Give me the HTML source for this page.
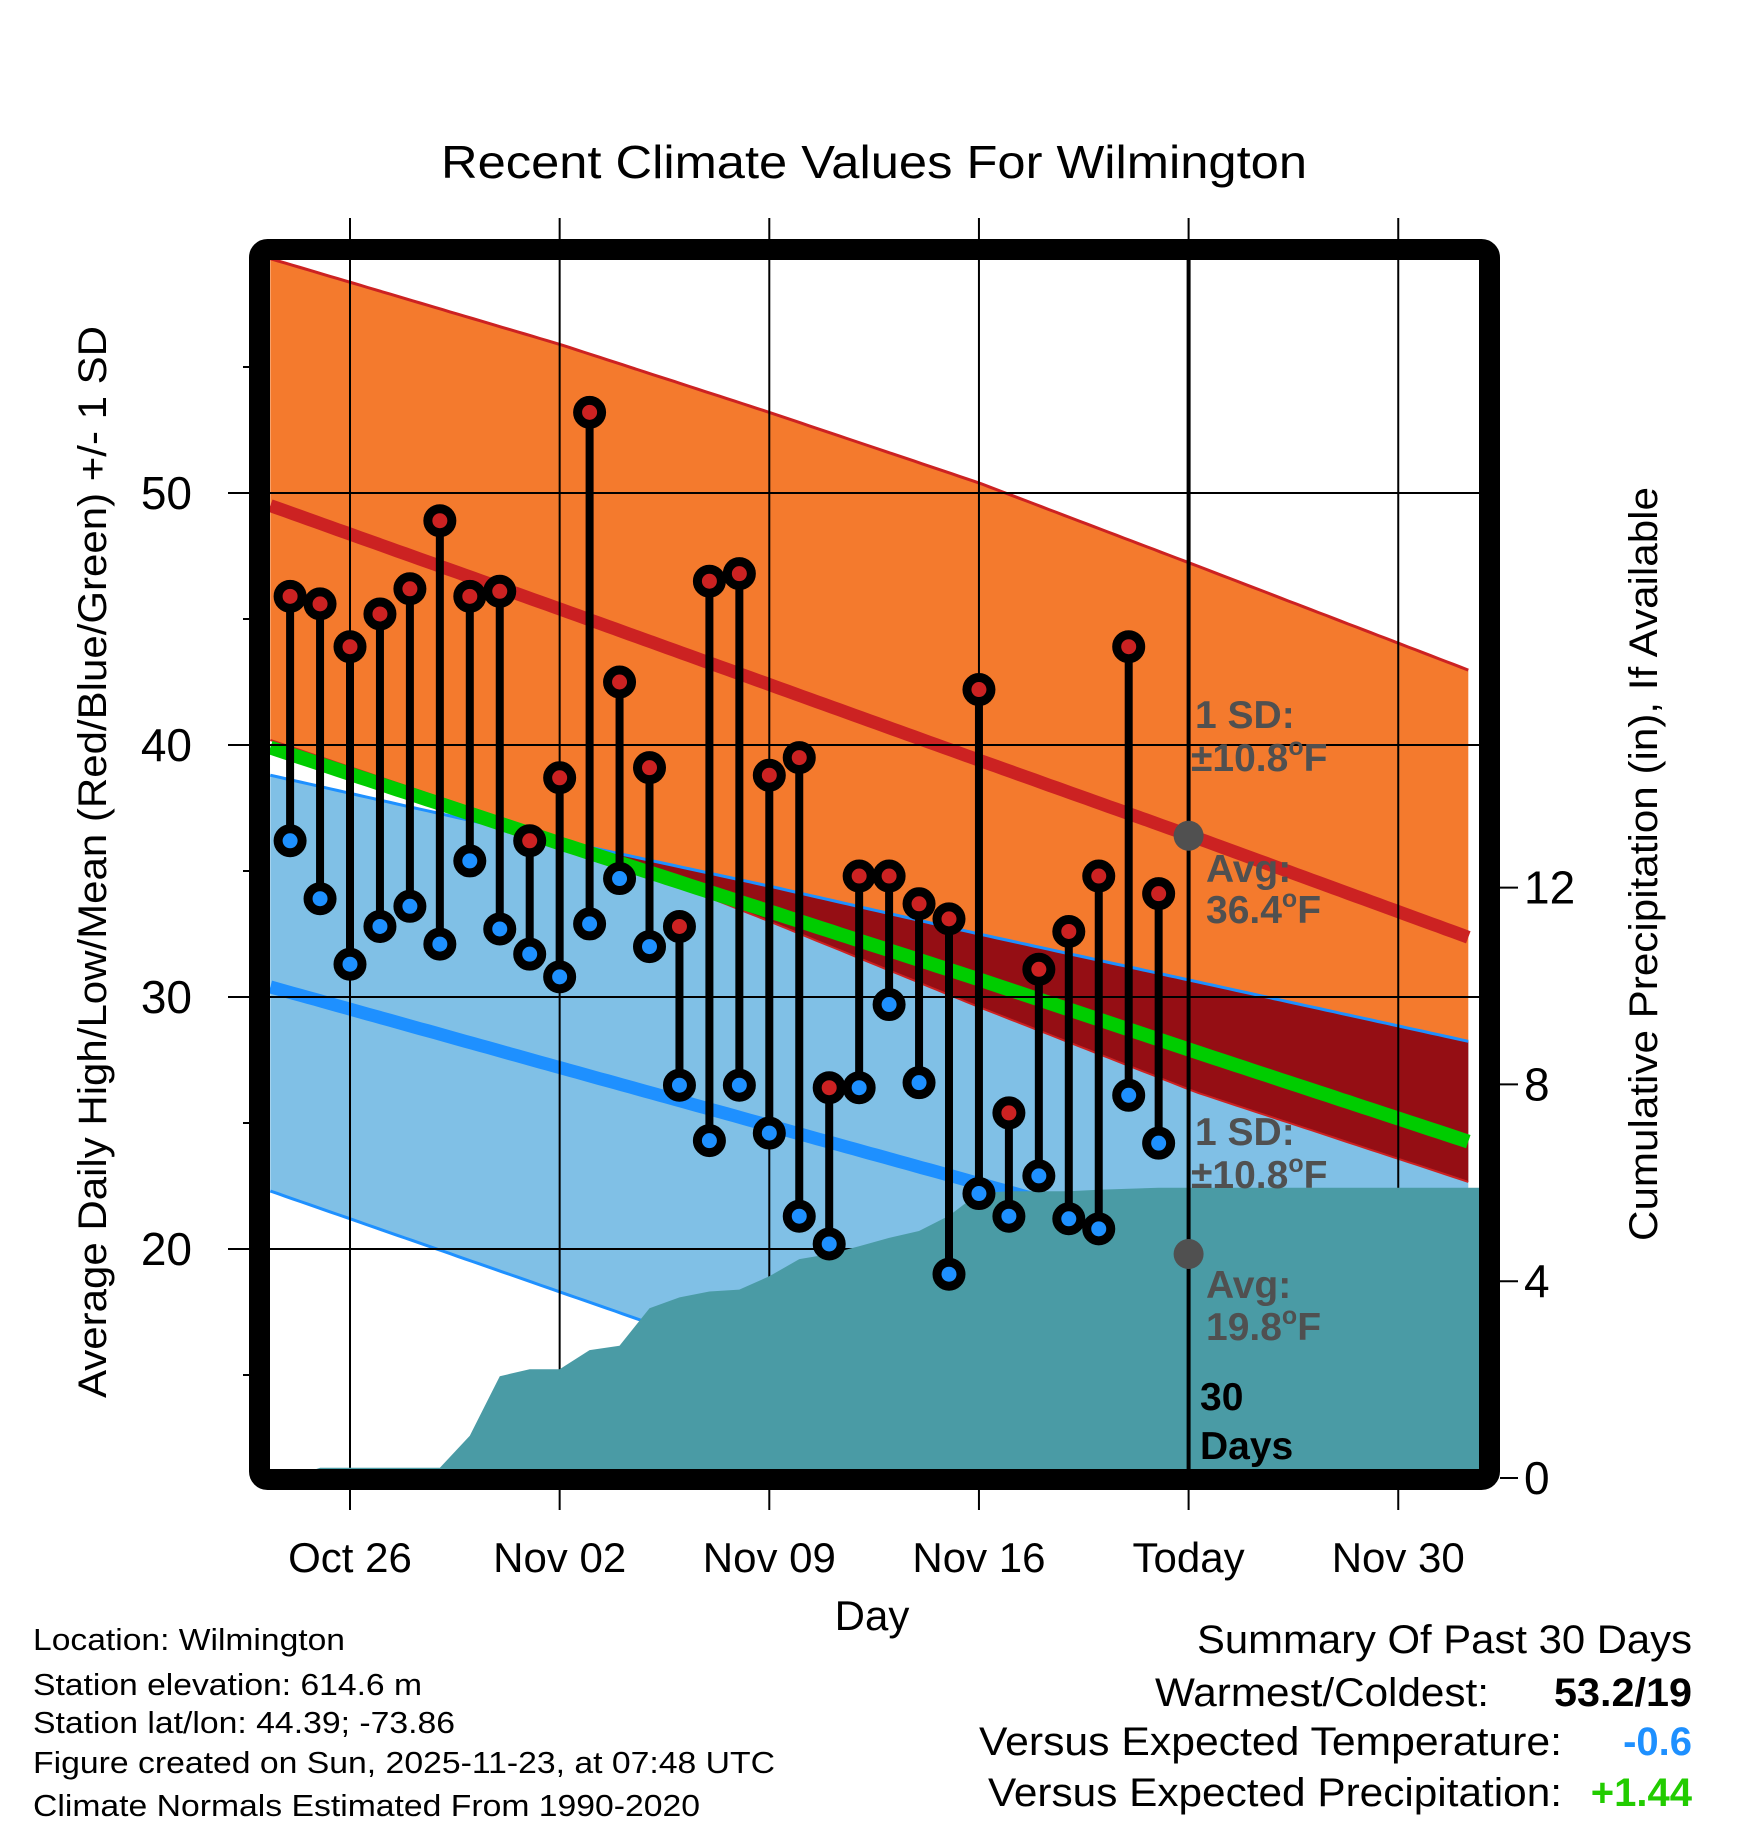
<!DOCTYPE html>
<html><head><meta charset="utf-8">
<style>
html,body{margin:0;padding:0;background:#fff;}
svg{display:block;font-family:"Liberation Sans",Arial,sans-serif;}
</style></head>
<body>
<svg id="chart" width="1748" height="1828" viewBox="0 0 1748 1828" xmlns="http://www.w3.org/2000/svg">
<defs><clipPath id="plotclip"><rect x="270" y="260" width="1209" height="1210"/></clipPath></defs>
<rect x="0" y="0" width="1748" height="1828" fill="#fff"/>
<text x="874" y="178" font-size="46" text-anchor="middle" textLength="866" lengthAdjust="spacingAndGlyphs">Recent Climate Values For Wilmington</text>
<g id="bands" clip-path="url(#plotclip)"></g>
<g id="grid"></g>
<g id="teal" clip-path="url(#plotclip)"></g>
<g id="marks" clip-path="url(#plotclip)"></g>
<g id="annot"></g>
<rect x="259.5" y="249.5" width="1230" height="1230" rx="8" fill="none" stroke="#000" stroke-width="21"/>
<g id="axes"></g>
<text transform="translate(106,862) rotate(-90)" font-size="40" text-anchor="middle" textLength="1072" lengthAdjust="spacingAndGlyphs">Average Daily High/Low/Mean (Red/Blue/Green) +/- 1 SD</text>
<text transform="translate(1657,864) rotate(-90)" font-size="40" text-anchor="middle" textLength="754" lengthAdjust="spacingAndGlyphs">Cumulative Precipitation (in), If Available</text>
<text x="872" y="1630" font-size="42" text-anchor="middle">Day</text>
<g font-size="31">
<text x="33" y="1650" textLength="312" lengthAdjust="spacingAndGlyphs">Location: Wilmington</text>
<text x="33" y="1695" textLength="389" lengthAdjust="spacingAndGlyphs">Station elevation: 614.6 m</text>
<text x="33" y="1733" textLength="422" lengthAdjust="spacingAndGlyphs">Station lat/lon: 44.39; -73.86</text>
<text x="33" y="1773" textLength="742" lengthAdjust="spacingAndGlyphs">Figure created on Sun, 2025-11-23, at 07:48 UTC</text>
<text x="33" y="1816" textLength="667" lengthAdjust="spacingAndGlyphs">Climate Normals Estimated From 1990-2020</text>
</g>
<g font-size="40">
<text x="1692" y="1653" text-anchor="end" textLength="495" lengthAdjust="spacingAndGlyphs">Summary Of Past 30 Days</text>
<text x="1489" y="1706" text-anchor="end" textLength="334" lengthAdjust="spacingAndGlyphs">Warmest/Coldest:</text>
<text x="1692" y="1706" text-anchor="end" font-weight="bold" textLength="138" lengthAdjust="spacingAndGlyphs">53.2/19</text>
<text x="1562" y="1755" text-anchor="end" textLength="583" lengthAdjust="spacingAndGlyphs">Versus Expected Temperature:</text>
<text x="1692" y="1755" text-anchor="end" font-weight="bold" fill="#1e90ff">-0.6</text>
<text x="1562" y="1806" text-anchor="end" textLength="574" lengthAdjust="spacingAndGlyphs">Versus Expected Precipitation:</text>
<text x="1692" y="1806" text-anchor="end" font-weight="bold" fill="#22cc00">+1.44</text>
</g>
</svg>
<script>
// ---- data ----
const highs = [45.9,45.6,43.9,45.2,46.2,48.9,45.9,46.1,36.2,38.7,53.2,42.5,39.1,32.8,46.5,46.8,38.8,39.5,26.4,34.8,34.8,33.7,33.1,42.2,25.4,31.1,32.6,34.8,43.9,34.1];
const lows = [36.2,33.9,31.3,32.8,33.6,32.1,35.4,32.7,31.7,30.8,32.9,34.7,32.0,26.5,24.3,26.5,24.6,21.3,20.2,26.4,29.7,26.6,19.0,22.2,21.3,22.9,21.2,20.8,26.1,24.2];
const precip = [0,0.21,0.21,0.21,0.21,0.21,0.86,2.07,2.21,2.21,2.6,2.69,3.45,3.67,3.79,3.83,4.1,4.45,4.55,4.71,4.88,5.02,5.33,5.79,5.83,5.83,5.83,5.86,5.88,5.9,5.9];
const normDays = [-2.66,7,14,21,28.3,37.5];
const normHighTop = [59.3,55.9,53.2,50.4,47.1,42.9];
const normHighAvg = [49.5,45.4,42.4,39.4,36.3,32.3];
const normHighBot = [40.2,36.3,33.0,29.6,26.2,22.6];
const normMean = [39.9,36.1,33.4,30.7,27.8,24.2];
const normLowTop = [38.8,36.2,34.4,32.5,30.6,28.2];
const normLowAvg = [30.4,27.2,24.9,22.6,20.2,17.2];
const normLowBot = [22.3,18.3,15.4,12.6,9.6,5.8];
const xTickDays = [0,7,14,21,28,35];
const xTickLabels = ["Oct 26","Nov 02","Nov 09","Nov 16","Today","Nov 30"];
const yMajor = [50,40,30,20];
const yMinor = [55,45,35,25,15];
const pTicks = [0,4,8,12];
const firstDay = -2; // Oct 24 relative to Oct 26
const todayDay = 28;
const todayHigh = 36.4, todayLow = 19.8;

// ---- scales ----
const X = d => 350 + 29.95*d;
const Y = t => 493 + (50 - t)*25.2;
const P = p => 1478 - p*49.2;
const NS = "http://www.w3.org/2000/svg";
function mk(tag, attrs, parent){ const e=document.createElementNS(NS,tag); for(const k in attrs) e.setAttribute(k,attrs[k]); parent.appendChild(e); return e; }
function interp(arr, d){
  if(d<=normDays[0]) return arr[0];
  for(let i=1;i<normDays.length;i++){ if(d<=normDays[i]){ const f=(d-normDays[i-1])/(normDays[i]-normDays[i-1]); return arr[i-1]+f*(arr[i]-arr[i-1]); } }
  return arr[arr.length-1];
}
const samples=[]; for(let d=normDays[0]; d<=normDays[normDays.length-1]+0.001; d+=0.25) samples.push(d);
function pts(fn){ return samples.map(d=>X(d).toFixed(1)+","+Y(fn(d)).toFixed(1)); }

const bands=document.getElementById('bands');
let e;
e=mk('polygon',{points:pts(d=>interp(normHighTop,d)).concat(pts(d=>interp(normHighBot,d)).reverse()).join(' '),fill:'#f47a2d'},bands);


e=mk('polygon',{points:pts(d=>interp(normLowTop,d)).concat(pts(d=>interp(normLowBot,d)).reverse()).join(' '),fill:'#80c0e6'},bands);


e=mk('polygon',{points:pts(d=>interp(normLowTop,d)).concat(pts(d=>Math.min(interp(normHighBot,d),interp(normLowTop,d))).reverse()).join(' '),fill:'#950e14'},bands);


function line(arr,color,w,name){ const l=mk('polyline',{points:pts(d=>interp(arr,d)).join(' '),fill:'none',stroke:color,'stroke-width':w},bands);   }
line(normHighTop,'#cc2222',3,'high-plus-sd-line');
line(normHighBot,'#cc2222',2,'high-minus-sd-line');
line(normLowTop,'#1e90ff',3,'low-plus-sd-line');
line(normLowBot,'#1e90ff',3,'low-minus-sd-line');
line(normHighAvg,'#cc2222',13,'avg-high-line');
line(normLowAvg,'#1e90ff',13,'avg-low-line');
line(normMean,'#00cc00',14,'avg-mean-line');

// grid
const grid=document.getElementById('grid');
xTickDays.forEach((d,i)=>{
  const g=mk('line',{x1:X(d),x2:X(d),y1:218,y2:1510,stroke:'#000','stroke-width':2},grid);
  
  
});
yMajor.forEach(t=>{
  const g=mk('line',{x1:228,x2:1479,y1:Y(t),y2:Y(t),stroke:'#000','stroke-width':2},grid);
  
  
});

// precipitation
const teal=document.getElementById('teal');
let pp=[];
precip.forEach((p,i)=>pp.push(X(firstDay+i).toFixed(1)+","+P(p).toFixed(1)));
pp.push("1490,"+P(precip[precip.length-1]).toFixed(1));
pp.push("1490,1480"); pp.push(X(firstDay).toFixed(1)+",1480");
e=mk('polygon',{points:pp.join(' '),fill:'#4a9ba5'},teal);



// stems and dots
const marks=document.getElementById('marks');
highs.forEach((h,i)=>{
  const x=X(firstDay+i), yl=Y(lows[i]), yh=Y(h);
  const s=mk('line',{x1:x,x2:x,y1:yh,y2:yl,stroke:'#000','stroke-width':8},marks);
  
  
  const c1=mk('circle',{cx:x,cy:yh,r:12,fill:'#cc2222',stroke:'#000','stroke-width':9},marks);
  
  
  const c2=mk('circle',{cx:x,cy:yl,r:12,fill:'#1e90ff',stroke:'#000','stroke-width':9},marks);
  
  
});
e=mk('line',{x1:X(todayDay),x2:X(todayDay),y1:260,y2:1470,stroke:'#000','stroke-width':4},marks);


e=mk('circle',{cx:X(todayDay),cy:Y(todayHigh),r:15,fill:'#505050'},marks);


e=mk('circle',{cx:X(todayDay),cy:Y(todayLow),r:15,fill:'#505050'},marks);



// annotations
const an=document.getElementById('annot');
function atext(x,y,txt,name,deg,color){
  const t=mk('text',{x:x,y:y,'font-size':39,'font-weight':'bold',fill:color||'#505050'},an);
  
  
  if(deg){ t.appendChild(document.createTextNode(txt)); const a=mk('tspan',{'font-size':25,dy:-16},t); a.textContent='o'; const b=mk('tspan',{dy:16},t); b.textContent='F'; }
  else t.textContent=txt;
}
atext(1195,728,'1 SD:','high-sd-label');
atext(1191,771,'\u00b110.8','high-sd-value',true);
atext(1206,882,'Avg:','avg-high-label');
atext(1206,923,todayHigh.toFixed(1),'avg-high-value',true);
atext(1195,1145,'1 SD:','low-sd-label');
atext(1191,1188,'\u00b110.8','low-sd-value',true);
atext(1206,1298,'Avg:','avg-low-label');
atext(1206,1340,todayLow.toFixed(1),'avg-low-value',true);
atext(1200,1410,'30','days-count',false,'#000');
atext(1200,1459,'Days','days-label',false,'#000');

// axes
const ax=document.getElementById('axes');
yMajor.forEach(t=>{
  const l=mk('text',{x:192,y:Y(t)+16,'font-size':46,'text-anchor':'end'},ax);
  
  
  l.textContent=t;
});
yMinor.forEach(t=>{
  const l=mk('line',{x1:243,x2:250,y1:Y(t),y2:Y(t),stroke:'#000','stroke-width':2},ax);
  
  
});
xTickDays.forEach((d,i)=>{
  const l=mk('text',{x:X(d),y:1572,'font-size':42,'text-anchor':'middle'},ax);
  
  
  l.textContent=xTickLabels[i];
});
pTicks.forEach(p=>{
  const t=mk('line',{x1:1500,x2:1518,y1:P(p),y2:P(p),stroke:'#000','stroke-width':2},ax);
  
  
  const l=mk('text',{x:1524,y:P(p)+16,'font-size':46},ax);
  
  
  l.textContent=p;
});
</script>
</body></html>
